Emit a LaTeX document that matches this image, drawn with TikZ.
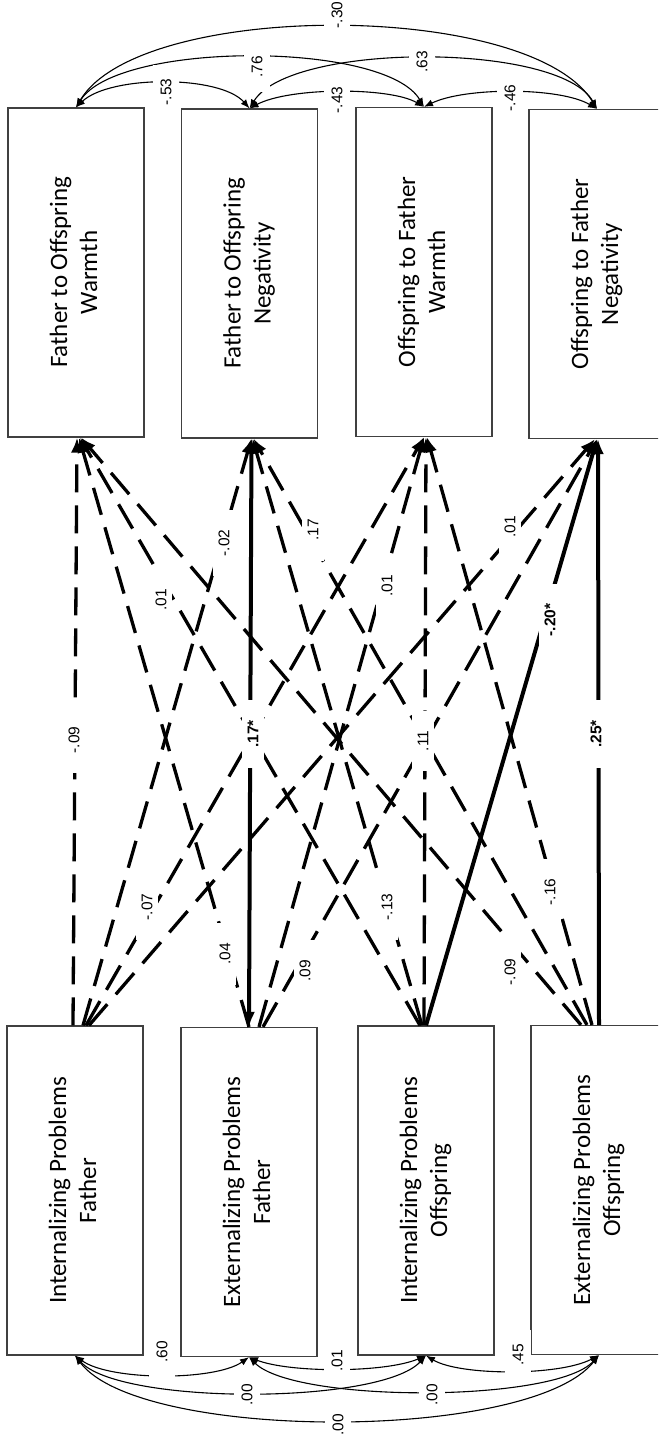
\documentclass[tikz,border=0pt]{standalone}
\usepackage{fontspec}
\setmainfont{Carlito}
\newfontfamily\lblfont{Liberation Sans}
\usetikzlibrary{arrows.meta}
\newcommand\boxtxt[2]{\rotatebox{90}{\begin{tabular}{@{}c@{}}#1\\#2\end{tabular}}}
\begin{document}
\begin{tikzpicture}[x=1pt,y=-1pt,
 box/.style={draw=black!75,line width=1.2pt,minimum width=136pt,minimum height=329pt,inner sep=0pt,font=\fontsize{25}{30}\selectfont},
 lbl/.style={fill=white,rotate=90,inner xsep=20pt,inner ysep=6pt,font=\lblfont\fontsize{15.5}{18}\selectfont},
 albl/.style={lbl,inner xsep=14pt,inner ysep=8pt},
 sig/.style={lbl,font=\lblfont\bfseries\fontsize{15.5}{18}\selectfont},
 reg/.style={line width=3.3pt,dash pattern=on 28pt off 13pt,-{Latex[length=15pt,width=12pt]}},
 sreg/.style={line width=4pt,-{Latex[length=15pt,width=12pt]}},
 cov/.style={line width=1.1pt,{Latex[length=9pt,width=7pt]}-{Latex[length=9pt,width=7pt]}}]
\clip (0,0) rectangle (658,1439);
% boxes
\node[box] (b1) at (76,272.5) {\boxtxt{Father to Offspring}{Warmth}};
\node[box] (b2) at (249.5,273.5) {\boxtxt{Father to Offspring}{Negativity}};
\node[box] (b3) at (424,272) {\boxtxt{Offspring to Father}{Warmth}};
\node[box] (b4) at (597,274) {\boxtxt{Offspring to Father}{Negativity}};
\node[box] (b5) at (75,1190.5) {\boxtxt{Internalizing Problems}{Father}};
\node[box] (b6) at (249,1192) {\boxtxt{Externalizing Problems}{Father}};
\node[box] (b7) at (426,1190.5) {\boxtxt{Internalizing Problems}{Offspring}};
\node[box] (b8) at (599,1190) {\boxtxt{Externalizing Problems}{Offspring}};
% regression paths
\draw[reg] ([xshift=-2pt]b5.north) -- ([xshift=1pt]b1.south);
\draw[reg] ([xshift=8pt]b5.north) -- ([xshift=2pt]b2.south);
\draw[reg] ([xshift=11pt]b5.north) -- (b3.south);
\draw[reg] ([xshift=14pt]b5.north) -- ([xshift=-2pt]b4.south);
\draw[reg] (b6.north) -- ([xshift=3pt]b1.south);
\draw[reg] ([xshift=10pt]b6.north) -- (b3.south);
\draw[reg] ([xshift=14pt]b6.north) -- (b4.south);
\draw[reg] ([xshift=-6pt]b7.north) -- ([xshift=4pt]b1.south);
\draw[reg] ([xshift=-4pt]b7.north) -- ([xshift=3pt]b2.south);
\draw[reg] ([xshift=-2pt]b7.north) -- ([xshift=2pt]b3.south);
\draw[reg] ([xshift=-18pt]b8.north) -- ([xshift=5pt]b1.south);
\draw[reg] ([xshift=-12pt]b8.north) -- ([xshift=4pt]b2.south);
\draw[reg] ([xshift=-7pt]b8.north) -- ([xshift=3pt]b3.south);
\draw[sreg,{Latex[length=15pt,width=12pt]}-{Latex[length=15pt,width=12pt]}] (b6.north) -- ([xshift=2pt]b2.south);
\draw[sreg] (b7.north) -- (b4.south);
\draw[sreg] (b8.north) -- ([xshift=1pt]b4.south);
% path labels
\node[lbl] (m1) at (74,740) {-.09};
\node[lbl] (m2) at (161,600) {.01};
\node[lbl] (m3) at (224,543) {-.02};
\node[sig] (m4) at (253,734) {.17*};
\node[lbl] (m5) at (313,530) {.17};
\node[lbl] (m6) at (387,586) {.01};
\node[lbl] (m7) at (423,741) {.11};
\node[lbl] (m8) at (510,527) {.01};
\node[sig] (m9) at (550,620) {-.20*};
\node[sig] (m10) at (596,734) {.25*};
\node[lbl] (m11) at (147,907) {-.07};
\node[lbl] (m12) at (225,954) {.04};
\node[lbl] (m13) at (305,971) {.09};
\node[lbl] (m14) at (387,907) {-.13};
\node[lbl] (m15) at (550,892) {-.16};
\node[lbl] (m16) at (510,972) {-.09};
% top covariances
\draw[cov] (b1.north) .. controls (140,0) and (530,0) .. (b4.north);
\draw[cov] (b1.north) .. controls (118,41) and (385,41) .. (b3.north);
\draw[cov] (b2.north) .. controls (290,42) and (560,42) .. (b4.north);
\draw[cov] (b1.north) .. controls (110,75) and (220,75) .. (b2.north);
\draw[cov] (b2.north) .. controls (290,87) and (390,87) .. (b3.north);
\draw[cov] (b3.north) .. controls (465,87) and (560,87) .. (b4.north);
\node[albl] (t1) at (337,15) {-.30};
\node[albl] (t2) at (257,67) {.76};
\node[albl] (t3) at (422,62) {.63};
\node[albl] (t4) at (166,92) {-.53};
\node[albl] (t5) at (337,100) {-.43};
\node[albl] (t6) at (510,98) {-.46};
% bottom covariances
\draw[cov] (b5.south) .. controls (110,1381) and (215,1381) .. (b6.south);
\draw[cov] (b6.south) .. controls (290,1373) and (385,1373) .. (b7.south);
\draw[cov] (b7.south) .. controls (460,1376) and (560,1376) .. (b8.south);
\node[albl] (u1) at (162,1352) {.60};
\node[albl] (u2) at (337,1361) {.01};
\node[albl] (u3) at (518,1355) {.45};
\draw[cov] (b5.south) .. controls (120,1405) and (380,1405) .. (b7.south);
\draw[cov] (b6.south) .. controls (295,1403) and (555,1403) .. (b8.south);
\node[albl] (u4) at (247,1395) {.00};
\node[albl] (u5) at (432,1395) {.00};
\draw[cov] (b5.south) .. controls (140,1442) and (530,1442) .. (b8.south);
\node[albl] (u6) at (338,1425) {.00};
\end{tikzpicture}
\end{document}
